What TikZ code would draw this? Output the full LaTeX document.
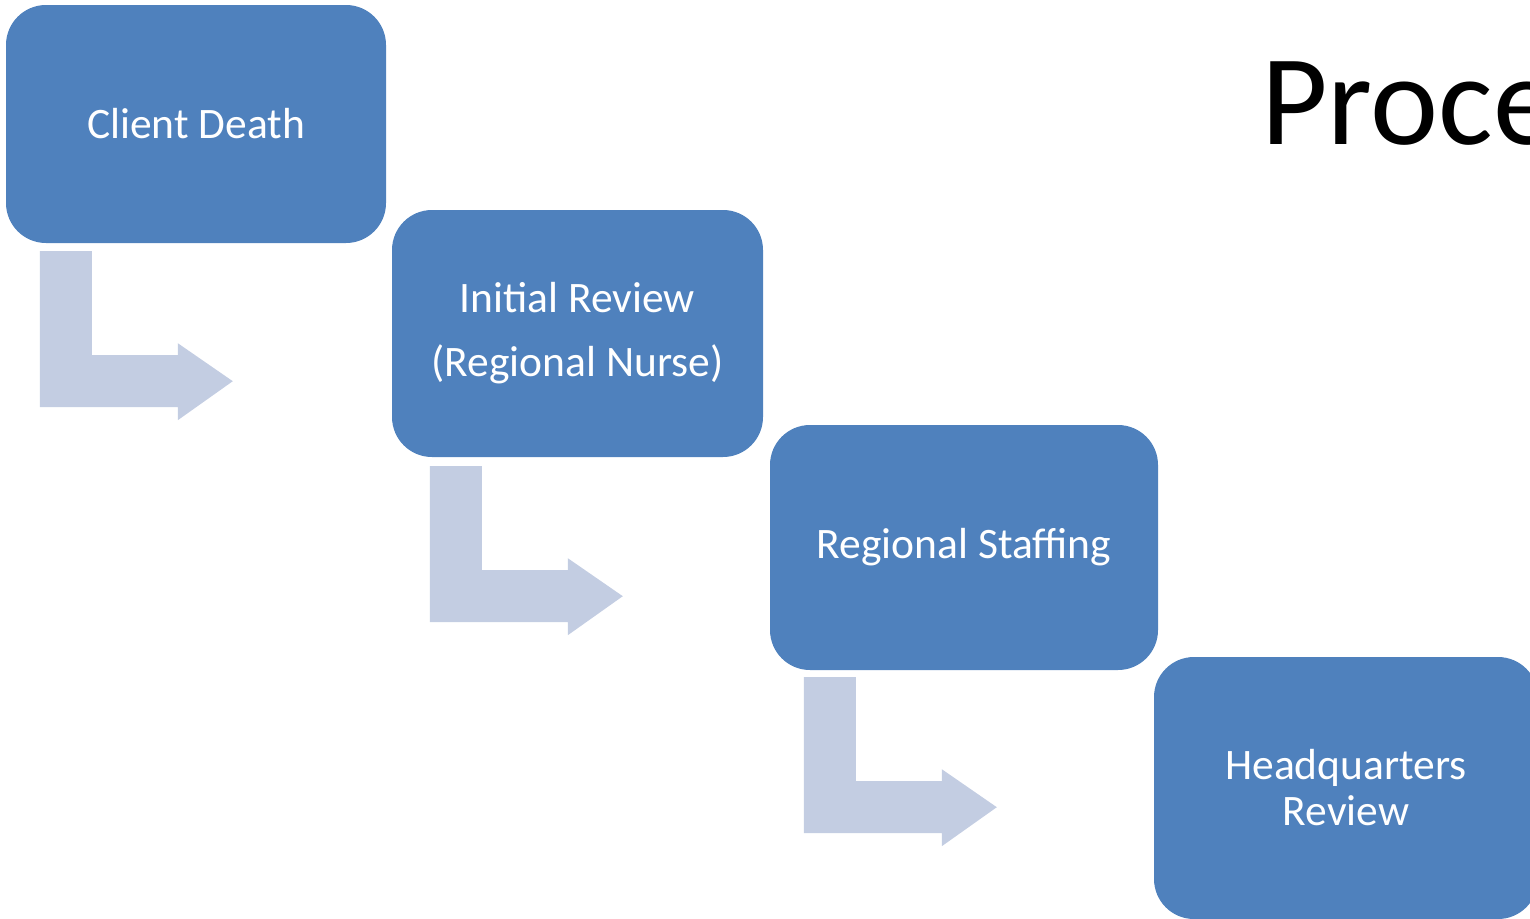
\documentclass[tikz,border=0pt]{standalone}
\usepackage{fontspec}
\setmainfont{Carlito}
\usetikzlibrary{calc}

\definecolor{stepblue}{RGB}{79,129,189}
\definecolor{bendgray}{RGB}{195,205,226}

\tikzset{
  stepbox/.style={rectangle, rounded corners=40pt, fill=stepblue, draw=none,
    inner sep=0pt, text=white, align=center,
    font=\fontsize{43.5}{46}\selectfont},
  bentarrow/.pic={
    \fill[bendgray] (0,0) -- (52,0) -- (52,104) -- (138,104) -- (138,92)
      -- (193,130) -- (138,169) -- (138,156) -- (0,156) -- cycle;
  }
}

\begin{document}
\begin{tikzpicture}[x=1pt, y=-1pt]
  \useasboundingbox (0,0) rectangle (1530,918);
  \clip (0,0) rectangle (1530,918);

  % process steps
  \node[stepbox, minimum width=380pt, minimum height=238pt] (death)
    at (196,124) {\raisebox{2pt}{Client Death}};
  \node[stepbox, minimum width=371pt, minimum height=247pt] (initial)
    at (577.5,333.5) {Initial Review\\[18pt](Regional Nurse)};
  \node[stepbox, minimum width=388pt, minimum height=245pt] (staffing)
    at (964,547.5) {\raisebox{1pt}{Regional Staffing}};
  \node[stepbox, minimum width=384pt, minimum height=262pt] (hq)
    at (1346,788) {Headquarters\\Review};

  % bent arrows leading from each step to the next
  \pic at ($(death.south west)+(34,8)$) {bentarrow};
  \pic at ($(initial.south west)+(38,9)$) {bentarrow};
  \pic at ($(staffing.south west)+(34,7)$) {bentarrow};

  % heading
  \node[anchor=base west, inner sep=0pt, font=\fontsize{129}{140}\selectfont]
    (title) at (1261,144) {Proce};
\end{tikzpicture}
\end{document}
